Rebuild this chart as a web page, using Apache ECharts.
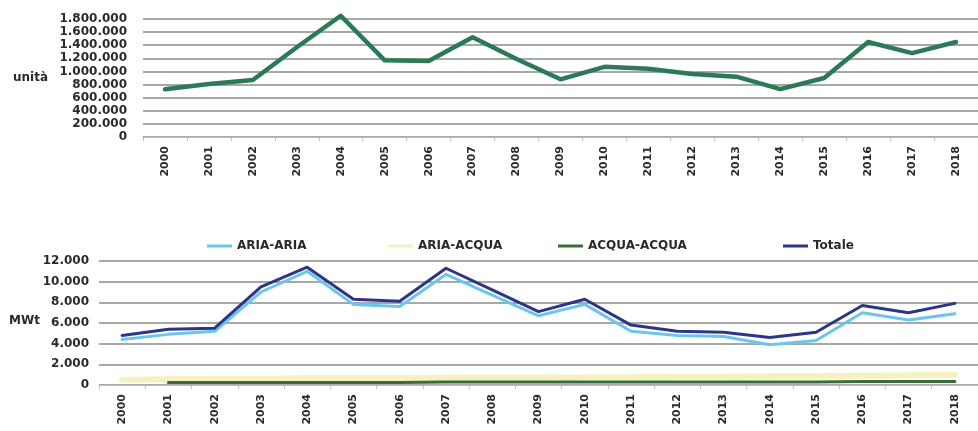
<!DOCTYPE html>
<html>
<head>
<meta charset="utf-8">
<script src="https://cdn.jsdelivr.net/npm/echarts@6/dist/echarts.min.js"></script>
<style>
  html, body { margin: 0; padding: 0; background: #fff; }
  #chart { width: 978px; height: 431px; }
</style>
</head>
<body>
<div id="chart"></div>
<script>
const years = ['2000', '2001', '2002', '2003', '2004', '2005', '2006', '2007', '2008', '2009',
  '2010', '2011', '2012', '2013', '2014', '2015', '2016', '2017', '2018']

// unità installate
const units = [730000, 810000, 870000, 1370000, 1850000, 1170000, 1160000, 1520000, 1190000, 880000,
  1070000, 1040000, 960000, 920000, 730000, 900000, 1450000, 1280000, 1450000]

// potenza MWt
const ariaAria = [4400, 4900, 5200, 9000, 11000, 7800, 7600, 10700, 8700, 6700,
  7800, 5200, 4800, 4700, 3900, 4300, 7000, 6300, 6900]
const ariaAcqua = [500, 550, 600, 600, 650, 650, 650, 700, 700, 700,
  750, 750, 800, 800, 850, 850, 900, 950, 1000]
const acquaAcqua = [null, 250, 250, 250, 250, 250, 250, 300, 300, 300,
  300, 300, 300, 300, 300, 300, 350, 350, 350]
const totale = [4800, 5400, 5500, 9500, 11400, 8300, 8100, 11300, 9200, 7100,
  8300, 5800, 5200, 5100, 4600, 5100, 7700, 7000, 7900]

const FONT = 'DejaVu Sans'
const TXT = '#2a2a2a'

function fmt(v) {
  return String(v).replace(/\B(?=(\d{3})+(?!\d))/g, '.')
}

const chart = echarts.init(document.getElementById('chart'))

function xAxisFor(gridIndex) {
  return {
    gridIndex,
    type: 'category',
    data: years,
    boundaryGap: true,
    axisLine: { lineStyle: { color: '#bdbdbd', width: 1 } },
    axisTick: { show: true, length: 4, interval: 0, lineStyle: { color: '#bdbdbd' } },
    axisLabel: {
      interval: 0,
      rotate: 90,
      margin: 9,
      color: TXT,
      fontFamily: FONT,
      fontWeight: 'bold',
      fontSize: 11,
    },
  }
}

function yAxisFor(gridIndex, max, interval, margin) {
  return {
    gridIndex,
    type: 'value',
    min: 0,
    max,
    interval,
    axisLine: { show: false },
    axisTick: { show: false },
    splitLine: { lineStyle: { color: '#a8a8a8', width: 2 } },
    axisLabel: {
      margin,
      color: TXT,
      fontFamily: FONT,
      fontWeight: 'bold',
      fontSize: 12,
      formatter: fmt,
    },
  }
}

function lineSeries(name, axis, data, color, width) {
  return {
    name,
    type: 'line',
    xAxisIndex: axis,
    yAxisIndex: axis,
    data,
    clip: false,
    showSymbol: false,
    lineStyle: { color, width, join: 'round', cap: 'round' },
    itemStyle: { color },
  }
}

const legendBase = {
  icon: 'rect',
  itemWidth: 25,
  itemHeight: 3,
  top: 235,
  textStyle: { color: TXT, fontFamily: FONT, fontWeight: 'bold', fontSize: 12 },
}

chart.setOption({
  animation: false,
  grid: [
    { left: 143, top: 19, width: 842, height: 118 },
    { left: 99, top: 261, width: 880, height: 124 },
  ],
  xAxis: [xAxisFor(0), xAxisFor(1)],
  yAxis: [yAxisFor(0, 1800000, 200000, 16), yAxisFor(1, 12000, 2000, 10)],
  legend: [
    Object.assign({}, legendBase, { left: 202, data: ['ARIA-ARIA'] }),
    Object.assign({}, legendBase, { left: 383, data: ['ARIA-ACQUA'] }),
    Object.assign({}, legendBase, { left: 553, data: ['ACQUA-ACQUA'] }),
    Object.assign({}, legendBase, { left: 778, data: ['Totale'] }),
  ],
  graphic: [
    {
      type: 'text', left: 13, top: 72,
      style: { text: 'unità', fill: TXT, font: 'bold 12px "DejaVu Sans"' },
    },
    {
      type: 'text', left: 9, top: 315,
      style: { text: 'MWt', fill: TXT, font: 'bold 12px "DejaVu Sans"' },
    },
  ],
  series: [
    lineSeries('unità', 0, units, '#2b7a55', 4.5),
    lineSeries('ARIA-ARIA', 1, ariaAria, '#6cc6ea', 3),
    lineSeries('ARIA-ACQUA', 1, ariaAcqua, '#f5f1c0', 6),
    lineSeries('ACQUA-ACQUA', 1, acquaAcqua, '#3a6d36', 3),
    lineSeries('Totale', 1, totale, '#2b3686', 3),
  ],
})
</script>
</body>
</html>
